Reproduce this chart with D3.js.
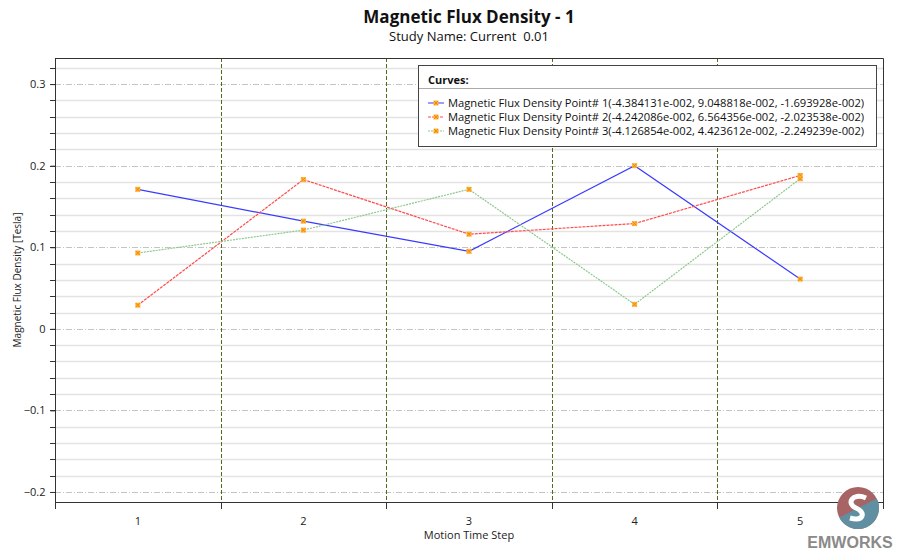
<!DOCTYPE html>
<html>
<head>
<meta charset="utf-8">
<script src="https://cdn.jsdelivr.net/npm/d3@7"></script>
<style>
  body { margin: 0; background: #fff; }
  svg { display: block; font-family: "Open Sans", "Noto Sans", sans-serif; }
</style>
</head>
<body>
<script>
// Chart data
const steps = [1, 2, 3, 4, 5];
const point1 = [0.171, 0.132, 0.095, 0.200, 0.061];
const point2 = [0.029, 0.183, 0.116, 0.129, 0.188];
const point3 = [0.093, 0.121, 0.171, 0.030, 0.184];
const seriesNames = [
    'Magnetic Flux Density Point# 1(-4.384131e-002, 9.048818e-002, -1.693928e-002)',
    'Magnetic Flux Density Point# 2(-4.242086e-002, 6.564356e-002, -2.023538e-002)',
    'Magnetic Flux Density Point# 3(-4.126854e-002, 4.423612e-002, -2.249239e-002)'
];
const yTicks = [-0.2, -0.1, 0, 0.1, 0.2, 0.3];

const W = 901, H = 553;
const m = { left: 55, right: 883, top: 58, bottom: 502 };

const svg = d3.select('body').append('svg')
    .attr('width', W)
    .attr('height', H);

// Scales
const x = d3.scaleBand()
    .domain(steps)
    .range([m.left, m.right]);

const y = d3.scaleLinear()
    .domain([-0.2123, 0.332])
    .range([m.bottom, m.top]);

// Minor gridlines every 0.02
const minor = d3.range(-0.2, 0.3301, 0.02).map(v => +v.toFixed(2));
svg.append('g')
    .selectAll('line')
    .data(minor.filter(v => Math.abs(Math.round(v * 10) - v * 10) > 1e-6))
    .enter()
    .append('line')
    .attr('x1', m.left).attr('x2', m.right)
    .attr('y1', d => Math.round(y(d)) + 0.5).attr('y2', d => Math.round(y(d)) + 0.5)
    .attr('stroke', '#e3e3e3')
    .attr('stroke-width', 1.5);

// Major gridlines (dash-dot)
svg.append('g')
    .selectAll('line')
    .data(yTicks)
    .enter()
    .append('line')
    .attr('x1', m.left).attr('x2', m.right)
    .attr('y1', d => Math.round(y(d)) + 0.5).attr('y2', d => Math.round(y(d)) + 0.5)
    .attr('stroke', '#c4c4c4')
    .attr('stroke-dasharray', '6,2,1,2');

// Vertical band separators
svg.append('g')
    .selectAll('line')
    .data(steps.slice(1))
    .enter()
    .append('line')
    .attr('x1', d => Math.round(x(d)) + 0.5).attr('x2', d => Math.round(x(d)) + 0.5)
    .attr('y1', m.top).attr('y2', m.bottom)
    .attr('stroke', '#4e6b1e')
    .attr('stroke-dasharray', '4,2');

// Frame (top and right)
svg.append('path')
    .attr('d', `M${m.left},${m.top + 0.5}H${m.right + 0.5}V${m.bottom}`)
    .attr('fill', 'none')
    .attr('stroke', '#333');

// Y axis
const yAxis = svg.append('g')
    .attr('transform', `translate(${m.left + 0.5},0)`)
    .call(d3.axisLeft(y).tickValues(yTicks).tickSize(5).tickPadding(5)
        .tickFormat(d => d === 0 ? '0' : d3.format('.1f')(d)));
yAxis.select('.domain').attr('stroke', '#333').attr('d', `M0,${m.top}V${m.bottom}`);
yAxis.selectAll('.tick line').attr('stroke', '#333');
yAxis.selectAll('text').attr('font-size', 11).attr('fill', '#222').attr('font-family', '"Open Sans", sans-serif');
svg.append('g')
    .selectAll('line')
    .data(minor)
    .enter()
    .append('line')
    .attr('x1', m.left - 5).attr('x2', m.left)
    .attr('y1', d => Math.round(y(d)) + 0.5).attr('y2', d => Math.round(y(d)) + 0.5)
    .attr('stroke', '#333');

// X axis
const xAxis = svg.append('g')
    .attr('transform', `translate(0,${m.bottom + 0.5})`)
    .call(d3.axisBottom(x).tickSize(0).tickPadding(15));
xAxis.select('.domain').attr('stroke', '#333').attr('d', `M${m.left},0H${m.right + 0.5}`);
xAxis.selectAll('text').attr('font-size', 11).attr('fill', '#222').attr('font-family', '"Open Sans", sans-serif');
svg.append('g')
    .selectAll('line')
    .data(steps.map(d => x(d)).concat([m.right]))
    .enter()
    .append('line')
    .attr('x1', d => Math.round(d) + 0.5).attr('x2', d => Math.round(d) + 0.5)
    .attr('y1', m.bottom).attr('y2', m.bottom + 7)
    .attr('stroke', '#333');

// Axis titles
svg.append('text')
    .attr('x', (m.left + m.right) / 2).attr('y', 539)
    .attr('text-anchor', 'middle')
    .attr('font-size', 11).attr('fill', '#222')
    .text('Motion Time Step');

svg.append('text')
    .attr('transform', `translate(21,${(m.top + m.bottom) / 2}) rotate(-90)`)
    .attr('text-anchor', 'middle')
    .attr('font-size', 10).attr('fill', '#222')
    .text('Magnetic Flux Density [Tesla]');

// Titles
svg.append('text')
    .attr('x', (m.left + m.right) / 2).attr('y', 23)
    .attr('text-anchor', 'middle')
    .attr('font-size', 17).attr('font-weight', 'bold').attr('fill', '#111')
    .text('Magnetic Flux Density - 1');
svg.append('text')
    .attr('x', (m.left + m.right) / 2).attr('y', 41)
    .attr('text-anchor', 'middle')
    .attr('font-size', 13).attr('fill', '#111')
    .attr('xml:space', 'preserve')
    .style('white-space', 'pre')
    .text('Study Name: Current  0.01');

// Series
const series = [
    { name: seriesNames[0], values: point1, color: '#3a3aff', dash: null, width: 1.2 },
    { name: seriesNames[1], values: point2, color: '#ff4d4d', dash: '3,1', width: 1.2 },
    { name: seriesNames[2], values: point3, color: '#8cc88c', dash: '2,1', width: 1.2 }
];

const line = d3.line()
    .x((d, i) => x(steps[i]) + x.bandwidth() / 2)
    .y(d => y(d));

function marker(g, cx, cy) {
    g.append('rect')
        .attr('x', cx - 2.5).attr('y', cy - 2.5)
        .attr('width', 5).attr('height', 5)
        .attr('fill', '#ffb13a');
    g.append('path')
        .attr('d', `M${cx - 2},${cy - 2}L${cx + 2},${cy + 2}M${cx - 2},${cy + 2}L${cx + 2},${cy - 2}`)
        .attr('stroke', '#f08c00').attr('stroke-width', 1);
}

series.forEach(s => {
    svg.append('path')
        .datum(s.values)
        .attr('d', line)
        .attr('fill', 'none')
        .attr('stroke', s.color)
        .attr('stroke-width', s.width)
        .attr('stroke-dasharray', s.dash);
});
series.forEach(s => {
    const g = svg.append('g');
    s.values.forEach((v, i) => marker(g, x(steps[i]) + x.bandwidth() / 2, y(v)));
});

// Legend
const lg = svg.append('g').attr('transform', 'translate(418,65)');
lg.append('rect')
    .attr('x', 0.5).attr('y', 0.5)
    .attr('width', 458).attr('height', 81)
    .attr('fill', '#fff')
    .attr('stroke', '#444');
lg.append('text')
    .attr('x', 10).attr('y', 19)
    .attr('font-size', 11).attr('font-weight', 'bold').attr('fill', '#111')
    .text('Curves:');
lg.append('line')
    .attr('x1', 1).attr('x2', 458)
    .attr('y1', 23.5).attr('y2', 23.5)
    .attr('stroke', '#aaa');
series.forEach((s, i) => {
    const yy = 38 + i * 14;
    lg.append('line')
        .attr('x1', 10).attr('x2', 26)
        .attr('y1', yy).attr('y2', yy)
        .attr('stroke', s.color)
        .attr('stroke-dasharray', s.dash);
    marker(lg, 18, yy);
    lg.append('text')
        .attr('x', 30).attr('y', yy + 4)
        .attr('font-size', 11.2).attr('fill', '#111')
        .text(s.name);
});

// EMWORKS logo
const logo = svg.append('g').attr('transform', 'translate(858,508)');
logo.append('circle').attr('r', 21).attr('fill', '#a86464');
logo.append('path')
    .attr('d', d3.arc()({ innerRadius: 0, outerRadius: 21, startAngle: Math.PI * 0.35, endAngle: Math.PI * 1.35 }))
    .attr('fill', '#5f8fa0');
logo.append('path')
    .attr('d', 'M8,-10 C-6,-16 -12,-4 -2,0 C8,4 6,14 -8,10')
    .attr('fill', 'none').attr('stroke', '#fff').attr('stroke-width', 5);
svg.append('text')
    .attr('x', 850).attr('y', 548)
    .attr('text-anchor', 'middle')
    .attr('font-size', 16).attr('font-weight', 'bold').attr('fill', '#8a8a8a')
    .attr('font-family', '"Liberation Sans", Arial, sans-serif')
    .text('EMWORKS');
</script>
</body>
</html>
